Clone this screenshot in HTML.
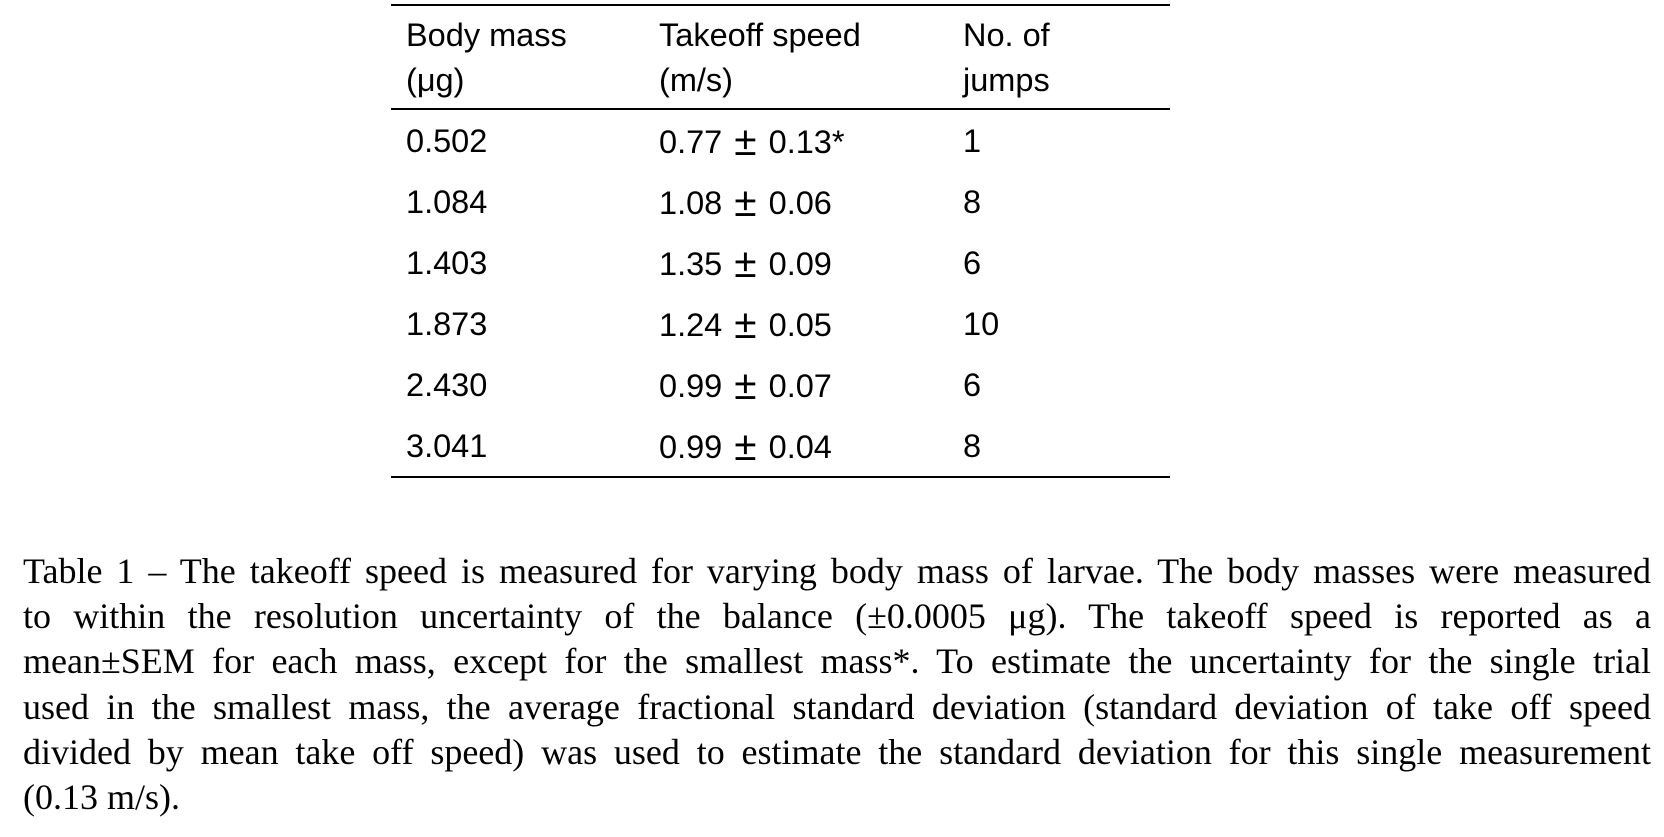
<!DOCTYPE html>
<html><head><meta charset="utf-8"><style>
body{margin:0;width:1664px;height:837px;background:#fff;position:relative;overflow:hidden;color:#000}
.t{position:absolute;font-family:"Liberation Sans",sans-serif;font-size:32.5px;line-height:1;white-space:nowrap}
.pm{display:inline-block;font-size:1.25em;line-height:0.8;margin:0 3px;vertical-align:-2px}
.line{position:absolute;left:391px;width:779px;background:#000}
#cap{position:absolute;left:23px;top:549px;width:1628px;font-family:"Liberation Serif",serif;font-size:36px;line-height:45.2px}
#cap div{text-align:justify;text-align-last:justify;white-space:nowrap}
#cap div.last{text-align-last:left}
</style></head><body>
<div class="line" style="top:4px;height:2px"></div>
<div class="line" style="top:108px;height:2px"></div>
<div class="line" style="top:476px;height:2px"></div>
<div id="tbl"></div>
<div id="cap">
<div style="white-space:normal">Table 1 – The takeoff speed is measured for varying body mass of larvae. The body masses were measured</div>
<div style="white-space:normal">to within the resolution uncertainty of the balance (±0.0005 μg). The takeoff speed is reported as a</div>
<div style="white-space:normal">mean±SEM for each mass, except for the smallest mass*. To estimate the uncertainty for the single trial</div>
<div style="white-space:normal">used in the smallest mass, the average fractional standard deviation (standard deviation of take off speed</div>
<div style="white-space:normal">divided by mean take off speed) was used to estimate the standard deviation for this single measurement</div>
<div class="last">(0.13 m/s).</div>
</div>
<script>
const masses=["0.502","1.084","1.403","1.873","2.430","3.041"];
const speedMeans=["0.77","1.08","1.35","1.24","0.99","0.99"];
const speedErrs=["0.13*","0.06","0.09","0.05","0.07","0.04"];
const jumps=["1","8","6","10","6","8"];
const headers=[["Body mass","(μg)"],["Takeoff speed","(m/s)"],["No. of","jumps"]];
const colX=[406,659,963];
const tbl=document.getElementById('tbl');
function add(txt,x,y,name,html){const d=document.createElement('div');d.className='t';if(html)d.innerHTML=txt;else d.textContent=txt;d.style.left=x+'px';d.style.top=y+'px';


tbl.appendChild(d);}
headers.forEach((h,i)=>{add(h[0],colX[i],19,'header-'+i+'-line1');add(h[1],colX[i],64,'header-'+i+'-line2');});
masses.forEach((m,r)=>{const y=125+r*61;add(m,colX[0],y,'mass-cell');add(speedMeans[r]+' <span class="pm">±</span> '+speedErrs[r],colX[1],y,'speed-cell',true);add(jumps[r],colX[2],y,'jumps-cell');});
</script>
</body></html>
